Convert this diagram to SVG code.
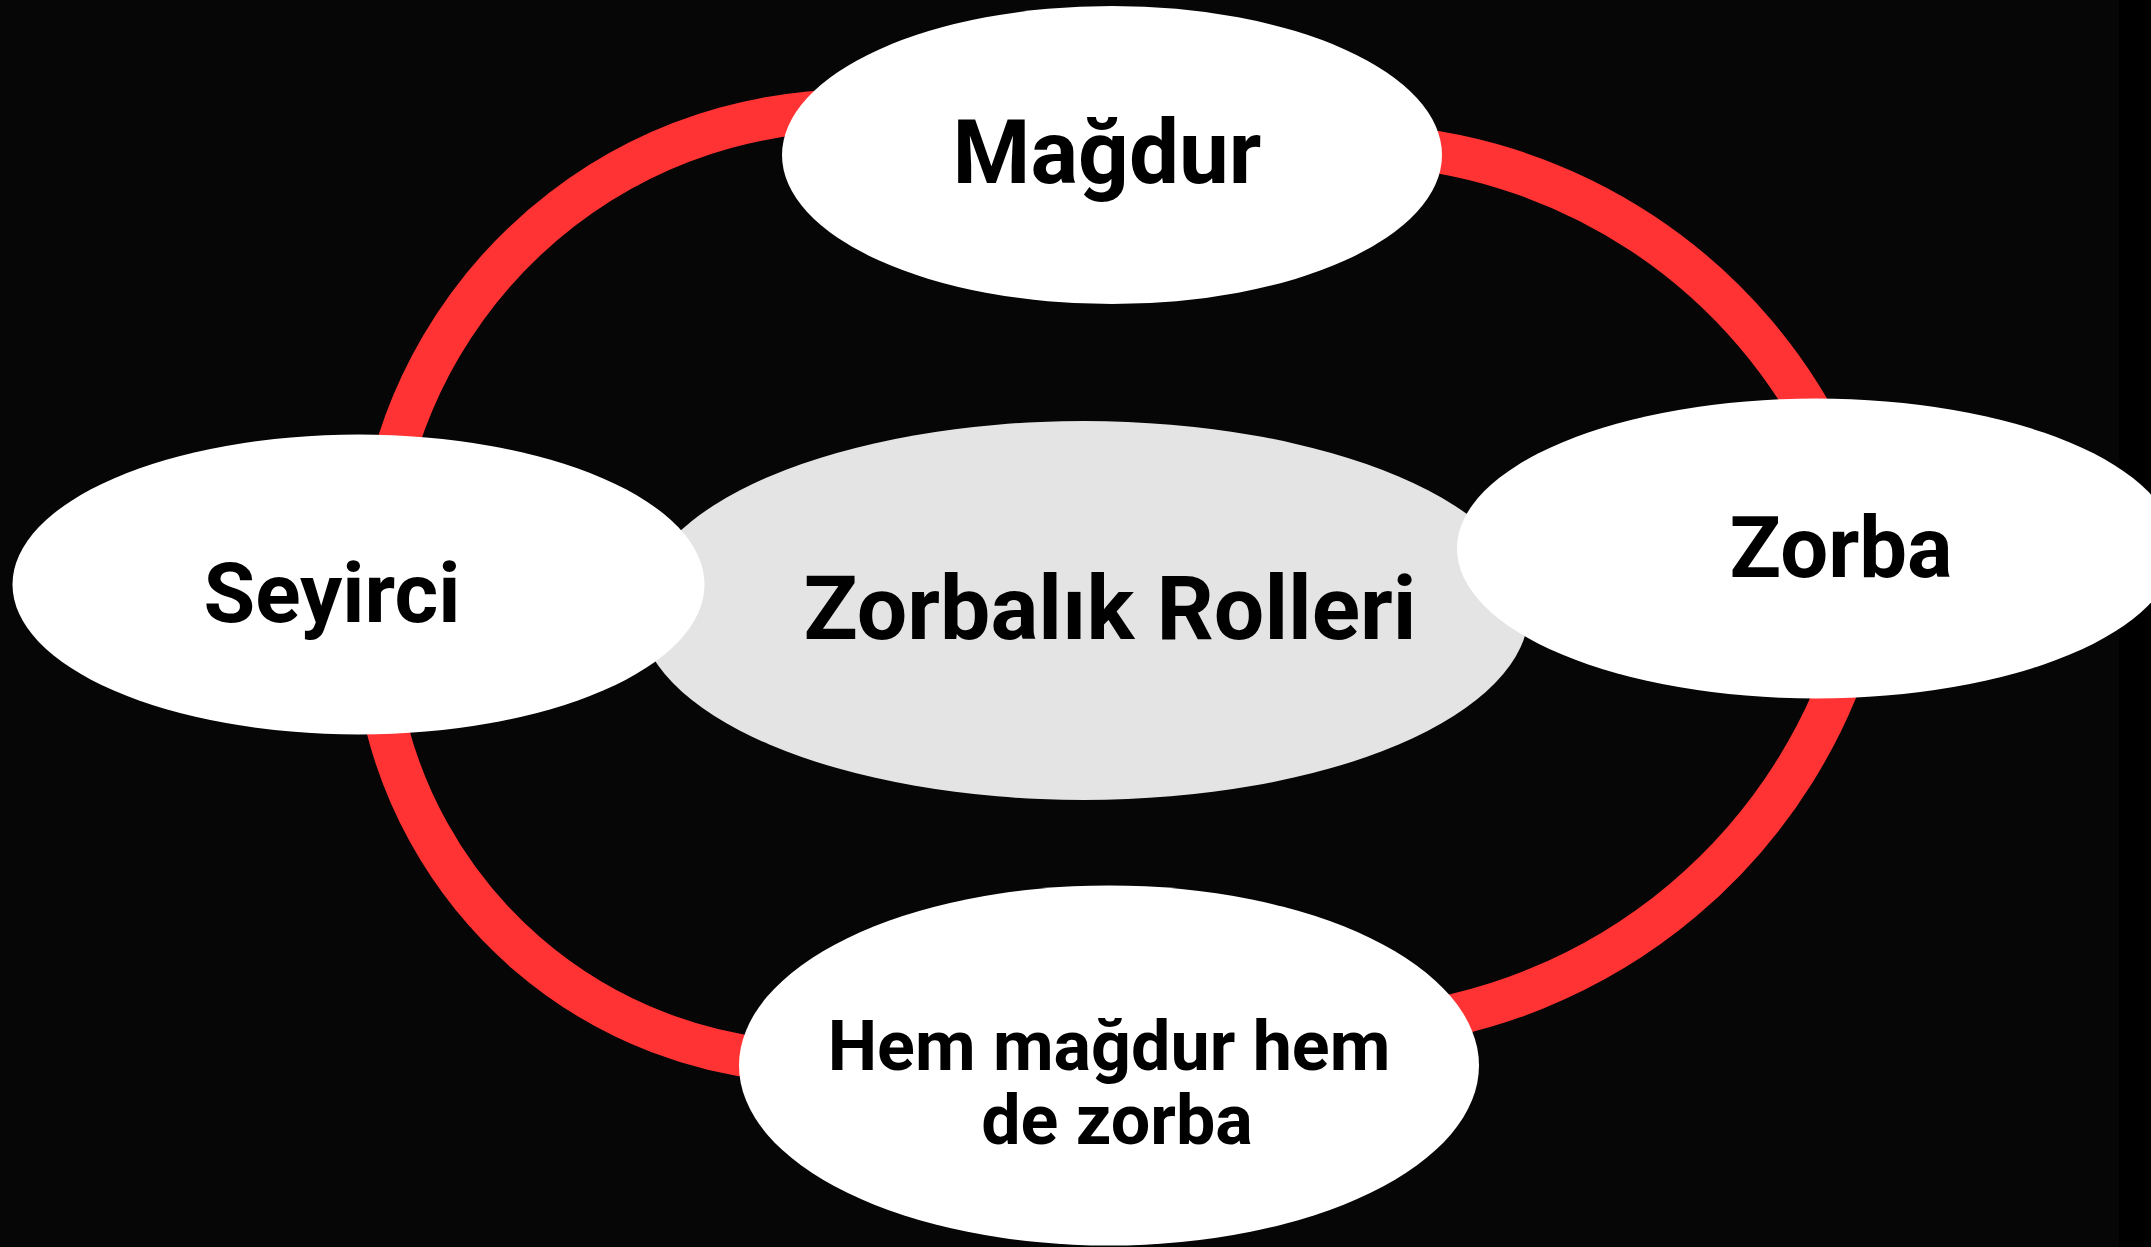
<svg xmlns="http://www.w3.org/2000/svg" width="2151" height="1247" viewBox="0 0 2151 1247">
  <style>
    .ring { fill: none; stroke: #FF3333; stroke-width: 42; stroke-linecap: butt; }
    .node { fill: #FFFFFF; }
    .hub { fill: #E4E4E4; }
    .lbl { font-family: Roboto, "Liberation Sans", sans-serif; font-weight: 700; fill: #000000; text-anchor: middle; }
  </style>
  <rect x="0" y="0" width="2151" height="1247" fill="#050605"/>
  <rect x="2119" y="0" width="32" height="1247" fill="#000000"/>
  <g id="connectors">
    <path class="ring" d="M 382.8 505.1 A 477.5 477.5 0 0 1 894.6 112.3"/>
    <path class="ring" d="M 1365.7 144.8 A 535.5 535.5 0 0 1 1832.3 453.7"/>
    <path class="ring" d="M 1859.3 622.8 A 548 548 0 0 1 1377.8 1026.9"/>
    <path class="ring" d="M 379.8 694.3 A 445 445 0 0 0 802.5 1061.7"/>
  </g>
  <g id="node-center">
    <ellipse class="hub" cx="1084" cy="610.5" rx="445" ry="189.5"/>
    <text class="lbl" x="1110" y="639" font-size="89.5">Zorbalık Rolleri</text>
  </g>
  <g id="node-magdur">
    <ellipse class="node" cx="1112" cy="155" rx="330" ry="149"/>
    <text class="lbl" x="1107" y="183" font-size="89">Mağdur</text>
  </g>
  <g id="node-zorba">
    <ellipse class="node" cx="1816" cy="548.5" rx="359" ry="150"/>
    <text class="lbl" x="1841" y="577" font-size="85">Zorba</text>
  </g>
  <g id="node-hem">
    <ellipse class="node" cx="1109" cy="1065.5" rx="370" ry="180"/>
    <text class="lbl" x="1109" y="1070" font-size="70">Hem mağdur hem</text>
    <text class="lbl" x="1117" y="1144" font-size="70">de zorba</text>
  </g>
  <g id="node-seyirci">
    <ellipse class="node" cx="358.5" cy="584.5" rx="346" ry="150"/>
    <text class="lbl" x="332" y="622" font-size="84">Seyirci</text>
  </g>
</svg>
